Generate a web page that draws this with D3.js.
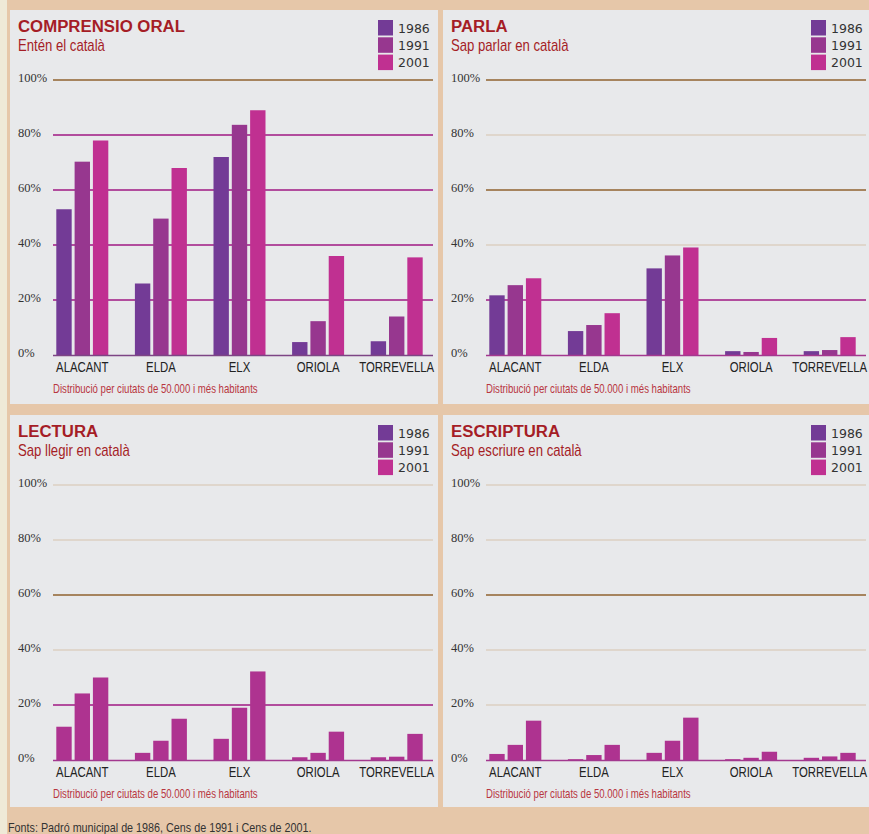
<!DOCTYPE html>
<html>
<head>
<meta charset="utf-8">
<script src="https://cdn.jsdelivr.net/npm/d3@7/dist/d3.min.js"></script>
<style>
  html, body { margin: 0; padding: 0; background: #e6c7a9; }
  svg { display: block; }
</style>
</head>
<body>
<svg id="chart" width="869" height="834"></svg>
<script>
/* ── Data ────────────────────────────────────────────────────────── */
const categories = ['ALACANT', 'ELDA', 'ELX', 'ORIOLA', 'TORREVELLA'];
const years      = ['1986', '1991', '2001'];
const yTicks     = [0, 20, 40, 60, 80, 100];

// Comprensió oral – entén el català (%)
const oral1986 = [53, 26, 72, 4.7, 5];
const oral1991 = [70.3, 49.6, 83.7, 12.3, 14];
const oral2001 = [78, 68, 89, 36, 35.5];

// Parla – sap parlar en català (%)
const parla1986 = [21.7, 8.7, 31.5, 1.4, 1.4];
const parla1991 = [25.4, 10.9, 36.2, 1.1, 1.8];
const parla2001 = [27.9, 15.2, 39.1, 6.2, 6.5];

// Lectura – sap llegir en català (%)
const lect1986 = [12.1, 2.6, 7.7, 1, 1];
const lect1991 = [24.2, 7, 19, 2.6, 1.2];
const lect2001 = [30, 15, 32.2, 10.3, 9.5];

// Escriptura – sap escriure en català (%)
const escr1986 = [2.2, 0.3, 2.6, 0.3, 0.8];
const escr1991 = [5.5, 1.8, 7, 0.8, 1.3];
const escr2001 = [14.3, 5.5, 15.4, 3, 2.6];

const panels = [
  { title: 'COMPRENSIO ORAL', sub: 'Entén el català',        series: [oral1986, oral1991, oral2001] },
  { title: 'PARLA',           sub: 'Sap parlar en català',   series: [parla1986, parla1991, parla2001] },
  { title: 'LECTURA',         sub: 'Sap llegir en català',   series: [lect1986, lect1991, lect2001] },
  { title: 'ESCRIPTURA',      sub: 'Sap escriure en català', series: [escr1986, escr1991, escr2001] }
];
const NOTE   = 'Distribució per ciutats de 50.000 i més habitants';
const SOURCE = 'Fonts: Padró municipal de 1986, Cens de 1991 i Cens de 2001.';

/* ── Styles ──────────────────────────────────────────────────────── */
const PANEL_BG  = '#e8e9eb';
const TITLE_COL = '#a51d26';
const NOTE_COL  = '#b8363f';
const SANS      = '"Liberation Sans", Arial, sans-serif';
const yearCols  = ['#733b96', '#97378f', '#c03091'];
const flatCol   = '#ae3390';            // lower panels print all years in one tone
const BROWN = '#a6845e', LIGHT = '#dccfc2', MAG = '#b24d9d';
// gridline colour per tick (20..100) for each panel
const gridCols = [
  [MAG, MAG, MAG, MAG, BROWN],
  [MAG, LIGHT, BROWN, LIGHT, BROWN],
  [MAG, LIGHT, BROWN, LIGHT, LIGHT],
  [LIGHT, LIGHT, BROWN, LIGHT, LIGHT]
];
const boxes = [
  { x: 10,  y: 10,  w: 428, h: 394 },
  { x: 443, y: 10,  w: 426, h: 394 },
  { x: 10,  y: 415, w: 428, h: 392 },
  { x: 443, y: 415, w: 426, h: 392 }
];

/* ── Condensed text: squeeze a regular sans horizontally ────────── */
const _ctx = document.createElement('canvas').getContext('2d');
function squeeze(sample, px, target) {
  _ctx.font = `${px}px "Liberation Sans", Arial, sans-serif`;
  return target / _ctx.measureText(sample).width;
}
const SUB_SX  = squeeze('Entén el català', 16, 87);
const CAT_SX  = squeeze('TORREVELLA', 15, 75);
const NOTE_SX = squeeze(NOTE, 12, 205);
const SRC_SX  = squeeze(SOURCE, 12.5, 304);

function narrowText(parent, x, y, sx, txt) {
  return parent.append('text')
    .attr('transform', `translate(${x},${y}) scale(${sx},1)`)
    .attr('font-family', SANS)
    .text(txt);
}

const svg = d3.select('#chart');

// cream strip on the left edge
svg.append('rect').attr('x', 0).attr('y', 0).attr('width', 7).attr('height', 834).attr('fill', '#efe9d7');

/* ── Panels ──────────────────────────────────────────────────────── */
panels.forEach((p, pi) => {
  const b = boxes[pi];
  const g = svg.append('g').attr('transform', `translate(${b.x},${b.y})`);

  g.append('rect').attr('width', b.w).attr('height', b.h).attr('fill', PANEL_BG);

  const y  = d3.scaleLinear().domain([0, 100]).range([345, 70]);
  const x0 = d3.scaleBand().domain(categories).range([33, 426]);
  const x1 = d3.scaleBand().domain(years).range([-26, 26]).paddingInner(0.16);

  // titles
  g.append('text').attr('x', 8).attr('y', 22)
    .attr('font-family', SANS).attr('font-weight', 'bold')
    .attr('font-size', 16.8).attr('fill', TITLE_COL).text(p.title);
  narrowText(g, 8, 41, SUB_SX, p.sub)
    .attr('font-size', 16).attr('fill', TITLE_COL);

  // legend
  const lg = g.append('g').attr('transform', 'translate(368,10)');
  years.forEach((yr, i) => {
    lg.append('rect').attr('x', 0).attr('y', i * 17.3).attr('width', 15).attr('height', 15.5)
      .attr('fill', yearCols[i]);
    lg.append('text').attr('x', 20).attr('y', i * 17.3 + 12.5)
      .attr('font-family', '"DejaVu Sans", sans-serif').attr('font-size', 12.5)
      .attr('fill', '#333').text(yr);
  });

  // gridlines + tick labels
  yTicks.forEach((t, i) => {
    g.append('text').attr('x', 8).attr('y', y(t) + 2)
      .attr('font-family', '"Liberation Serif", serif').attr('font-size', 12.5)
      .attr('fill', '#333').text(t + '%');
    if (t === 0) return;
    const col = gridCols[pi][i - 1];
    g.append('line').attr('x1', 43).attr('x2', 423)
      .attr('y1', y(t)).attr('y2', y(t))
      .attr('stroke', col).attr('stroke-width', col === LIGHT ? 1.5 : 2);
  });

  // bars
  const cols = pi < 2 ? yearCols : [flatCol, flatCol, flatCol];
  categories.forEach((c, ci) => {
    const cx = x0(c) + x0.bandwidth() / 2;
    years.forEach((yr, si) => {
      const v = p.series[si][ci];
      g.append('rect')
        .attr('x', cx + x1(yr)).attr('width', x1.bandwidth())
        .attr('y', y(v)).attr('height', y(0) - y(v))
        .attr('fill', cols[si]);
    });
  });

  // baseline
  g.append('line').attr('x1', 43).attr('x2', 423).attr('y1', y(0) + 0.5).attr('y2', y(0) + 0.5)
    .attr('stroke', pi === 0 ? '#7d4585' : '#a3388f').attr('stroke-width', 1.5);

  // category axis
  const xAxis = d3.axisBottom(x0).tickSize(0).tickPadding(0);
  const ax = g.append('g').attr('transform', `translate(0,${y(0) + 16.5})`).call(xAxis);
  ax.select('.domain').remove();
  ax.selectAll('text').attr('font-family', SANS).attr('font-size', 15)
    .attr('fill', '#222').attr('dy', 0).attr('y', 0)
    .attr('transform', `scale(${CAT_SX},1)`);

  // note
  narrowText(g, 43, 383, NOTE_SX, NOTE)
    .attr('font-size', 12).attr('fill', NOTE_COL);
});

/* ── Source ──────────────────────────────────────────────────────── */
narrowText(svg, 8, 832, SRC_SX, SOURCE)
  .attr('font-size', 12.5).attr('fill', '#333');
</script>
</body>
</html>
